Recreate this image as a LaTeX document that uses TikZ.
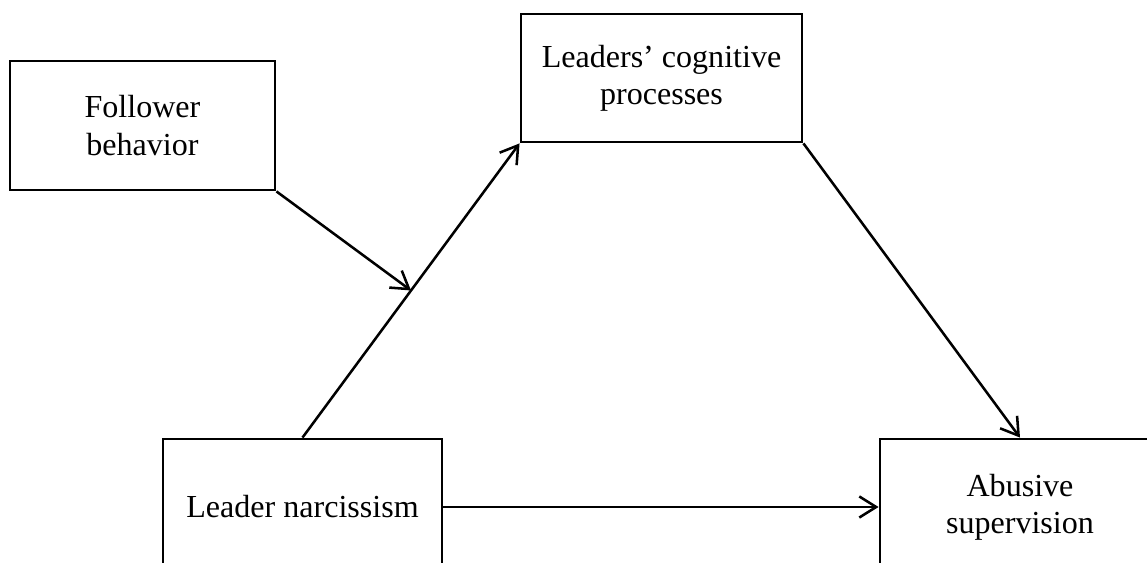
\documentclass[tikz,border=0pt]{standalone}
\usepackage{fontspec}
\setmainfont{Liberation Serif}
\usetikzlibrary{positioning,arrows.meta}

\begin{document}
\begin{tikzpicture}[x=0.025cm,y=-0.025cm,
        box/.style={draw,line width=2pt,align=center,inner sep=0pt,
                    font=\fontsize{22.8}{26.5}\selectfont},
        link/.style={line width=1.8pt,
                     -{Straight Barb[length=12pt,width=15pt]}}]
  \useasboundingbox (0,0) rectangle (1147,563);
  \clip (0,0) rectangle (1147,563);
  % boxes
  \node[box,minimum width=6.625cm,minimum height=3.225cm] (follower)
    at (142.5,125.5) {Follower\\behavior};
  \node[box,minimum width=7.025cm,minimum height=3.2cm] (cognition)
    at (661.5,78) {Leaders’ cognitive\\processes};
  \node[box,minimum width=6.975cm,minimum height=3.4cm] (narcissism)
    at (302.5,507) {Leader narcissism};
  \node[box,minimum width=7cm,minimum height=3.4cm] (abuse)
    at (1020,507) {Abusive\\supervision};
  % arrows
  \draw[link] (narcissism.north) -- (cognition.south west)
    coordinate[pos=0.5] (moderate);
  \draw[link] (cognition.south east) -- (abuse.north);
  \draw[link] (narcissism.east) -- (abuse.west);
  \draw[link] (follower.south east) -- (moderate);
\end{tikzpicture}
\end{document}
